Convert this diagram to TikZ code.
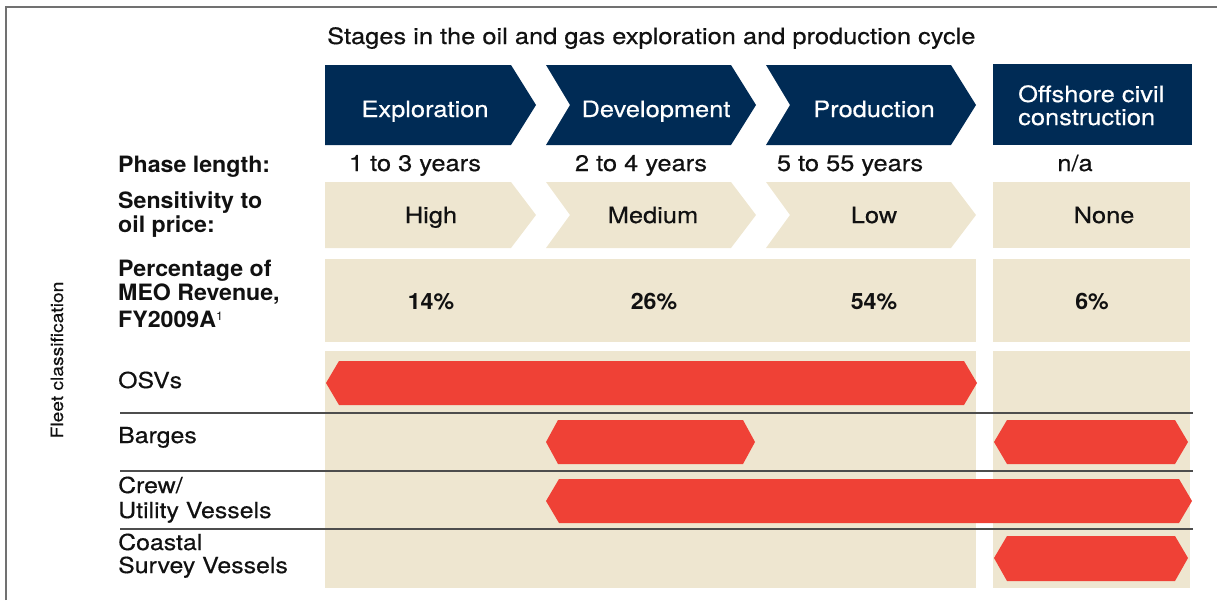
\documentclass[tikz,border=0pt]{standalone}
\usepackage{fontspec}
\setmainfont[FakeStretch=1.13, FakeBold=0.45]{TeX Gyre Heros}
\newfontfamily\labfont[FakeStretch=1.03]{TeX Gyre Heros}
\definecolor{navyc}{HTML}{002B55}
\definecolor{beigec}{HTML}{EEE6D0}
\definecolor{redc}{HTML}{EF4136}
\definecolor{rulec}{HTML}{4D4D4D}
\definecolor{txtc}{HTML}{111111}
\tikzset{
  stagebox/.style={fill=navyc, draw=none},
  softbox/.style={fill=beigec, draw=none},
  fleetbar/.style={fill=redc, draw=none},
  rowrule/.style={draw=rulec, line width=1.4pt},
  framerule/.style={draw=rulec!80, line width=1.4pt},
  plain/.style={inner sep=0pt, text=txtc, font=\fontsize{22.5}{27}\selectfont},
  rowname/.style={plain, font=\fontsize{22}{26}\selectfont},
  heading/.style={plain, font=\labfont\bfseries\fontsize{22.5}{27}\selectfont},
  figure/.style={plain, font=\labfont\bfseries\fontsize{22.5}{27}\selectfont},
  stagetext/.style={plain, text=white},
  sidetext/.style={plain, font=\fontsize{17}{20}\selectfont},
}
\begin{document}
\begin{tikzpicture}[x=1pt, y=-1pt]
\useasboundingbox (0,0) rectangle (1217,600);

% outer frame (left and top edges)
\draw[framerule] (6,600) -- (6,7) -- (1217,7);

% title
\node[plain, anchor=base west] (title) at (327,44) {Stages in the oil and gas exploration and production cycle};

% stage chevrons
\fill[stagebox] (325,65) -- (511,65) -- (536,105) -- (511,145) -- (325,145) -- cycle;
\fill[stagebox] (546,65) -- (731,65) -- (756,105) -- (731,145) -- (546,145) -- (570,105) -- cycle;
\fill[stagebox] (766,65) -- (951,65) -- (976,105) -- (951,145) -- (766,145) -- (790,105) -- cycle;
\fill[stagebox] (993,64) rectangle (1192,145);

\node[stagetext, anchor=base] (expl) at (425,117) {Exploration};
\node[stagetext, anchor=base] (devl) at (656,117) {Development};
\node[stagetext, anchor=base] (prod) at (874,117) {Production};
\node[stagetext, anchor=base west] (offa) at (1018,102) {Offshore civil};
\node[stagetext, anchor=base west] (offb) at (1018,125) {construction};

% phase length row
\node[heading, anchor=base west] (phlab) at (118,172) {Phase length:};
\node[plain, anchor=base] (ph1) at (415,171) {1 to 3 years};
\node[plain, anchor=base] (ph2) at (641,171) {2 to 4 years};
\node[plain, anchor=base] (ph3) at (850,171) {5 to 55 years};
\node[plain, anchor=base] (ph4) at (1075,171) {n/a};

% sensitivity row
\fill[softbox] (325,182) -- (511,182) -- (536,215) -- (511,248) -- (325,248) -- cycle;
\fill[softbox] (546,182) -- (731,182) -- (756,215) -- (731,248) -- (546,248) -- (570,215) -- cycle;
\fill[softbox] (766,182) -- (951,182) -- (976,215) -- (951,248) -- (766,248) -- (790,215) -- cycle;
\fill[softbox] (993,182) rectangle (1190,248);

\node[heading, anchor=base west] (selab1) at (118,208) {Sensitivity to};
\node[heading, anchor=base west] (selab2) at (118,232) {oil price:};
\node[plain, anchor=base] (se1) at (431,223) {High};
\node[plain, anchor=base] (se2) at (653,223) {Medium};
\node[plain, anchor=base] (se3) at (874,223) {Low};
\node[plain, anchor=base] (se4) at (1104,223) {None};

% revenue share row
\fill[softbox] (325,259) rectangle (976,342);
\fill[softbox] (993,259) rectangle (1190,342);

\node[heading, anchor=base west] (pclab1) at (118,276) {Percentage of};
\node[heading, anchor=base west] (pclab2) at (118,300) {MEO Revenue,};
\node[heading, anchor=base west] (pclab3) at (118,327) {FY2009A\raisebox{7pt}{\fontsize{12}{12}\selectfont\mdseries 1}};
\node[figure, anchor=base] (pc1) at (431,309) {14\%};
\node[figure, anchor=base] (pc2) at (654,309) {26\%};
\node[figure, anchor=base] (pc3) at (874,309) {54\%};
\node[figure, anchor=base] (pc4) at (1092,309) {6\%};

% fleet panel
\fill[softbox] (325,351) rectangle (976,588);
\fill[softbox] (993,351) rectangle (1190,588);

\draw[rowrule] (120,413) -- (1193,413);
\draw[rowrule] (120,471) -- (1193,471);
\draw[rowrule] (120,529) -- (1193,529);

% fleet coverage bars
\fill[fleetbar] (326,383) -- (339,361) -- (964,361) -- (977,383) -- (964,405) -- (339,405) -- cycle;
\fill[fleetbar] (546,442) -- (558,420) -- (743,420) -- (755,442) -- (743,464) -- (558,464) -- cycle;
\fill[fleetbar] (994,442) -- (1007,420) -- (1175,420) -- (1188,442) -- (1175,464) -- (1007,464) -- cycle;
\fill[fleetbar] (546,501) -- (559,479) -- (1179,479) -- (1192,501) -- (1179,523) -- (559,523) -- cycle;
\fill[fleetbar] (994,558) -- (1007,536) -- (1175,536) -- (1188,558) -- (1175,581) -- (1007,581) -- cycle;

\node[sidetext, anchor=base, rotate=90] (fleet) at (63,360) {Fleet classification};
\node[rowname, anchor=base west] (osv) at (118,388) {OSVs};
\node[rowname, anchor=base west] (barge) at (118,443) {Barges};
\node[rowname, anchor=base west] (crew1) at (118,493) {Crew/};
\node[rowname, anchor=base west] (crew2) at (118,518) {Utility Vessels};
\node[rowname, anchor=base west] (coast1) at (118,550) {Coastal};
\node[rowname, anchor=base west] (coast2) at (118,573) {Survey Vessels};
\end{tikzpicture}
\end{document}
